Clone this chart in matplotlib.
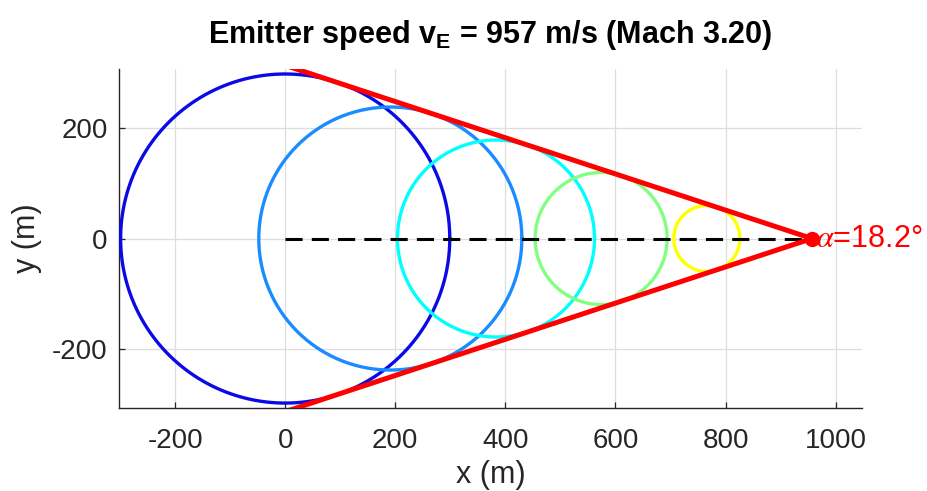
import numpy as np
import matplotlib
matplotlib.use("Agg")
import matplotlib.pyplot as plt

plt.rcParams["font.family"] = ["Liberation Sans", "DejaVu Sans"]
plt.rcParams["mathtext.fontset"] = "custom"
plt.rcParams["mathtext.rm"] = "Liberation Sans"
plt.rcParams["mathtext.bf"] = "Liberation Sans:bold"
plt.rcParams["axes.unicode_minus"] = False

# data
emitter_speed = 957          # m/s
mach = 3.20
emitter_x = 957
cone_angle_deg = 18.2
wave_centers = [0, 191, 383, 574, 766]
wave_radii = [299, 239, 179, 120, 60]
wave_colors = ["#0a0ae6", "#1a8cff", "#00ffff", "#80ff80", "#ffff00"]
track_x = [0, 957]
cone_start_x = 0
x_ticks = [-200, 0, 200, 400, 600, 800, 1000]
y_ticks = [-200, 0, 200]

gray = "#262626"

fig = plt.figure(figsize=(9.28, 4.91), dpi=100)
ax = fig.add_axes([0.1282, 0.169, 0.8007, 0.6904])

theta = np.linspace(0, 2 * np.pi, 400)
for cx, r, col in zip(wave_centers, wave_radii, wave_colors):
    ax.plot(cx + r * np.cos(theta), r * np.sin(theta), color=col, lw=2.4, zorder=3)

ax.plot(track_x, [0, 0], color="black", lw=2.2, ls=(0, (5.6, 3.0)), zorder=4)

# Mach cone
slope = np.tan(np.radians(cone_angle_deg))
cone_y = (emitter_x - cone_start_x) * slope
ax.plot([cone_start_x, emitter_x], [cone_y, 0], color="red", lw=3.6, zorder=5,
        solid_capstyle="butt")
ax.plot([cone_start_x, emitter_x], [-cone_y, 0], color="red", lw=3.6, zorder=5,
        solid_capstyle="butt")
ax.plot([emitter_x], [0], "o", color="red", ms=10, zorder=6)
ax.text(emitter_x + 8, 0, r"$\alpha$=" + f"{cone_angle_deg:.1f}°", color="red",
        fontsize=22, va="center", ha="left", math_fontfamily="stix", zorder=7,
        clip_on=False)

ax.set_xlim(-302, 1048)
ax.set_ylim(-308, 308)
ax.set_xticks(x_ticks)
ax.set_yticks(y_ticks)
ax.grid(True, color="#dedede", lw=0.9)
ax.set_axisbelow(True)
for side in ["top", "right"]:
    ax.spines[side].set_visible(False)
for side in ["left", "bottom"]:
    ax.spines[side].set_color(gray)
    ax.spines[side].set_linewidth(1.0)
ax.tick_params(direction="in", length=4, width=0.9, colors=gray, labelsize=20)
ax.tick_params(axis="x", pad=14.5)
ax.tick_params(axis="y", pad=8)

ax.set_xlabel("x (m)", fontsize=22, color=gray)
ax.xaxis.set_label_coords(0.5, -0.154)
ax.xaxis.label.set_va("top")
ax.set_ylabel("y (m)", fontsize=22, color=gray)
ax.yaxis.set_label_coords(-0.1232, 0.5)
ax.yaxis.label.set_va("center")

fig.text(0.5285, 1 - 43.3 / 491,
         r"Emitter speed v$_{\mathbf{E}}$ = " + f"{emitter_speed} m/s (Mach {mach:.2f})",
         fontsize=22, fontweight="bold", ha="center", va="baseline", color="black")

fig.savefig("out.png", dpi=100)
